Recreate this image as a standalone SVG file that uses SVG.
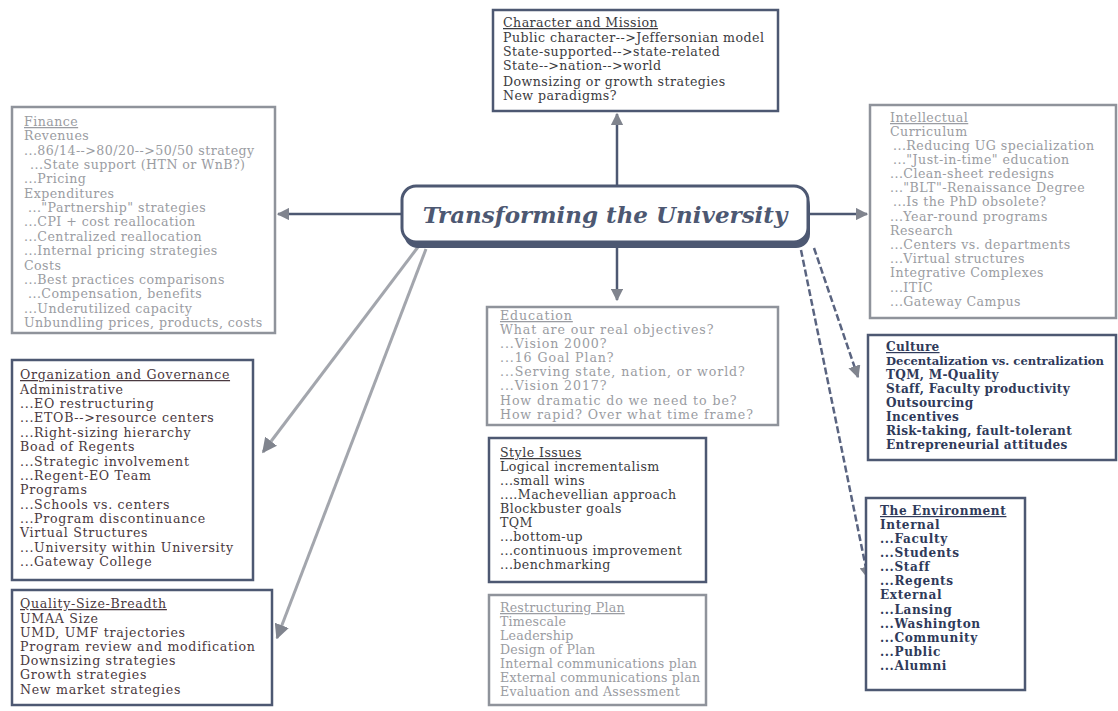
<svg xmlns="http://www.w3.org/2000/svg" width="1118" height="711" viewBox="0 0 1118 711">
<defs>
<style>
.t{font-family:"DejaVu Serif","Liberation Serif",serif;font-size:12.6px;letter-spacing:0.45px}
.dark{fill:#3b3b40}
.faint{fill:#9a9ca2}
.red{fill:#4a3940}
.navy{fill:#2f3a5a;font-weight:bold;font-size:12.1px;letter-spacing:0.3px}
.u{text-decoration:underline}
.bd{fill:#fff;stroke:#4d5872;stroke-width:2.5}
.bf{fill:#fff;stroke:#8f939b;stroke-width:2.5}
.cn{fill:none;stroke:#4d5872;stroke-width:2.5}
.cg{fill:none;stroke:#a3a6ad;stroke-width:3}
.cd{fill:none;stroke:#5a6480;stroke-width:2.5;stroke-dasharray:7 3}
</style>
<marker id="ah" viewBox="0 0 10 10" refX="9" refY="5" markerWidth="5" markerHeight="5" orient="auto-start-reverse" markerUnits="strokeWidth">
<path d="M0,0 L10,5 L0,10 z" fill="#80848e"/>
</marker>
</defs>
<rect width="1118" height="711" fill="#fff"/>

<g id="connectors">
<line class="cn" x1="617" y1="186" x2="617" y2="114" marker-end="url(#ah)"/>
<line class="cn" x1="402" y1="214" x2="278" y2="214" marker-end="url(#ah)"/>
<line class="cn" x1="810" y1="214" x2="867" y2="214" marker-end="url(#ah)"/>
<line class="cn" x1="617" y1="244" x2="617" y2="300" marker-end="url(#ah)"/>
<line class="cg" x1="418" y1="247" x2="263" y2="452" marker-end="url(#ah)"/>
<line class="cg" x1="426" y1="249" x2="277" y2="638" marker-end="url(#ah)"/>
<line class="cd" x1="814" y1="248" x2="858" y2="377" marker-end="url(#ah)"/>
<line class="cd" x1="801" y1="250" x2="868" y2="578" marker-end="url(#ah)"/>
</g>

<g id="center">
<rect x="404" y="192" width="406" height="56" rx="14" fill="#4d5872"/>
<rect x="402" y="186" width="406" height="56" rx="14" fill="#fff" stroke="#4d5872" stroke-width="3"/>
<text x="605" y="223" text-anchor="middle" font-family="DejaVu Serif,serif" font-size="23" font-weight="bold" font-style="italic" fill="#4d5872">Transforming the University</text>
</g>

<g id="character">
<rect class="bd" x="493" y="10" width="285" height="101"/>
<text class="t dark">
<tspan class="u" x="503" y="27">Character and Mission</tspan>
<tspan x="503" y="42">Public character--&gt;Jeffersonian model</tspan>
<tspan x="503" y="56">State-supported--&gt;state-related</tspan>
<tspan x="503" y="70">State--&gt;nation--&gt;world</tspan>
<tspan x="503" y="86">Downsizing or growth strategies</tspan>
<tspan x="503" y="100">New paradigms?</tspan>
</text>
</g>

<g id="finance">
<rect class="bf" x="12" y="107" width="263" height="226"/>
<text class="t faint">
<tspan class="u" x="24" y="126">Finance</tspan>
<tspan x="24" y="140">Revenues</tspan>
<tspan x="24" y="155">...86/14--&gt;80/20--&gt;50/50 strategy</tspan>
<tspan x="30" y="169">...State support (HTN or WnB?)</tspan>
<tspan x="24" y="183">...Pricing</tspan>
<tspan x="24" y="198">Expenditures</tspan>
<tspan x="28" y="212">..."Partnership" strategies</tspan>
<tspan x="24" y="226">...CPI + cost reallocation</tspan>
<tspan x="24" y="241">...Centralized reallocation</tspan>
<tspan x="24" y="255">...Internal pricing strategies</tspan>
<tspan x="24" y="270">Costs</tspan>
<tspan x="24" y="284">...Best practices comparisons</tspan>
<tspan x="28" y="298">...Compensation, benefits</tspan>
<tspan x="24" y="313">...Underutilized capacity</tspan>
<tspan x="24" y="327">Unbundling prices, products, costs</tspan>
</text>
</g>

<g id="intellectual">
<rect class="bf" x="870" y="105" width="246" height="213"/>
<text class="t faint">
<tspan class="u" x="890" y="122">Intellectual</tspan>
<tspan x="890" y="136">Curriculum</tspan>
<tspan x="893" y="150">...Reducing UG specialization</tspan>
<tspan x="893" y="164">..."Just-in-time" education</tspan>
<tspan x="890" y="178">...Clean-sheet redesigns</tspan>
<tspan x="890" y="192">..."BLT"-Renaissance Degree</tspan>
<tspan x="893" y="206">...Is the PhD obsolete?</tspan>
<tspan x="890" y="221">...Year-round programs</tspan>
<tspan x="890" y="235">Research</tspan>
<tspan x="890" y="249">...Centers vs. departments</tspan>
<tspan x="890" y="263">...Virtual structures</tspan>
<tspan x="890" y="277">Integrative Complexes</tspan>
<tspan x="890" y="292">...ITIC</tspan>
<tspan x="890" y="306">...Gateway Campus</tspan>
</text>
</g>

<g id="education">
<rect class="bf" x="487" y="307" width="291" height="118"/>
<text class="t faint" style="letter-spacing:0.9px">
<tspan class="u" x="500" y="320">Education</tspan>
<tspan x="500" y="334">What are our real objectives?</tspan>
<tspan x="500" y="348">...Vision 2000?</tspan>
<tspan x="500" y="362">...16 Goal Plan?</tspan>
<tspan x="500" y="376">...Serving state, nation, or world?</tspan>
<tspan x="500" y="390">...Vision 2017?</tspan>
<tspan x="500" y="405">How dramatic do we need to be?</tspan>
<tspan x="500" y="419">How rapid? Over what time frame?</tspan>
</text>
</g>

<g id="organization">
<rect class="bd" x="12" y="360" width="241" height="220"/>
<text class="t red" style="letter-spacing:0.7px">
<tspan class="u" x="20" y="379">Organization and Governance</tspan>
<tspan x="20" y="394">Administrative</tspan>
<tspan x="20" y="408">...EO restructuring</tspan>
<tspan x="20" y="422">...ETOB--&gt;resource centers</tspan>
<tspan x="20" y="437">...Right-sizing hierarchy</tspan>
<tspan x="20" y="451">Boad of Regents</tspan>
<tspan x="20" y="466">...Strategic involvement</tspan>
<tspan x="20" y="480">...Regent-EO Team</tspan>
<tspan x="20" y="494">Programs</tspan>
<tspan x="20" y="509">...Schools vs. centers</tspan>
<tspan x="20" y="523">...Program discontinuance</tspan>
<tspan x="20" y="537">Virtual Structures</tspan>
<tspan x="20" y="552">...University within University</tspan>
<tspan x="20" y="566">...Gateway College</tspan>
</text>
</g>

<g id="culture">
<rect class="bd" x="868" y="335" width="248" height="125"/>
<text class="t navy">
<tspan class="u" x="886" y="351">Culture</tspan>
<tspan x="886" y="365" style="font-size:11.6px;letter-spacing:0">Decentalization vs. centralization</tspan>
<tspan x="886" y="379">TQM, M-Quality</tspan>
<tspan x="886" y="393">Staff, Faculty productivity</tspan>
<tspan x="886" y="407">Outsourcing</tspan>
<tspan x="886" y="421">Incentives</tspan>
<tspan x="886" y="435">Risk-taking, fault-tolerant</tspan>
<tspan x="886" y="449">Entrepreneurial attitudes</tspan>
</text>
</g>

<g id="style">
<rect class="bd" x="489" y="438" width="217" height="144"/>
<text class="t dark">
<tspan class="u" x="500" y="457">Style Issues</tspan>
<tspan x="500" y="471">Logical incrementalism</tspan>
<tspan x="500" y="485">...small wins</tspan>
<tspan x="500" y="499">....Machevellian approach</tspan>
<tspan x="500" y="513">Blockbuster goals</tspan>
<tspan x="500" y="527">TQM</tspan>
<tspan x="500" y="541">...bottom-up</tspan>
<tspan x="500" y="555">...continuous improvement</tspan>
<tspan x="500" y="569">...benchmarking</tspan>
</text>
</g>

<g id="quality">
<rect class="bd" x="12" y="590" width="260" height="115"/>
<text class="t red" style="letter-spacing:0.7px">
<tspan class="u" x="20" y="608">Quality-Size-Breadth</tspan>
<tspan x="20" y="623">UMAA Size</tspan>
<tspan x="20" y="637">UMD, UMF trajectories</tspan>
<tspan x="20" y="651">Program review and modification</tspan>
<tspan x="20" y="665">Downsizing strategies</tspan>
<tspan x="20" y="679">Growth strategies</tspan>
<tspan x="20" y="694">New market strategies</tspan>
</text>
</g>

<g id="restructuring">
<rect class="bf" x="489" y="595" width="217" height="110"/>
<text class="t faint" style="letter-spacing:0.2px">
<tspan class="u" x="500" y="612">Restructuring Plan</tspan>
<tspan x="500" y="626">Timescale</tspan>
<tspan x="500" y="640">Leadership</tspan>
<tspan x="500" y="654">Design of Plan</tspan>
<tspan x="500" y="668">Internal communications plan</tspan>
<tspan x="500" y="682">External communications plan</tspan>
<tspan x="500" y="696">Evaluation and Assessment</tspan>
</text>
</g>

<g id="environment">
<rect class="bd" x="866" y="498" width="159" height="192"/>
<text class="t navy" style="letter-spacing:0.6px">
<tspan class="u" x="880" y="515">The Environment</tspan>
<tspan x="880" y="529">Internal</tspan>
<tspan x="880" y="543">...Faculty</tspan>
<tspan x="880" y="557">...Students</tspan>
<tspan x="880" y="571">...Staff</tspan>
<tspan x="880" y="585">...Regents</tspan>
<tspan x="880" y="599">External</tspan>
<tspan x="880" y="614">...Lansing</tspan>
<tspan x="880" y="628">...Washington</tspan>
<tspan x="880" y="642">...Community</tspan>
<tspan x="880" y="656">...Public</tspan>
<tspan x="880" y="670">...Alumni</tspan>
</text>
</g>
</svg>
